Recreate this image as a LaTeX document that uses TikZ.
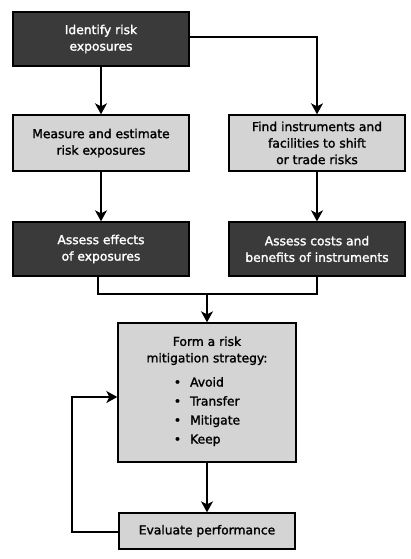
\documentclass[tikz,border=0pt]{standalone}
\usepackage{fontspec}
\setmainfont{DejaVu Sans}[BoldFont=DejaVu Sans, BoldFeatures={FakeBold=1.6}]
\usetikzlibrary{arrows.meta}
\definecolor{darkbox}{HTML}{3A3A3A}
\definecolor{lightbox}{HTML}{D4D4D4}
\tikzset{
  box/.style={draw=black, line width=1.4pt, minimum width=176pt, inner sep=0pt, align=center,
    font=\bfseries\fontsize{12.3}{16.5}\selectfont},
  darkstep/.style={box, fill=darkbox, text=white},
  lightstep/.style={box, fill=lightbox, text=black},
  conn/.style={line width=1.4pt, draw=black},
  arr/.style={conn, -{Stealth[length=11pt,width=12pt,inset=3pt]}},
}
\begin{document}
\begin{tikzpicture}[x=1pt,y=-1pt]
\useasboundingbox (0,0) rectangle (410,559);
\node[darkstep, minimum height=54pt] (ident) at (101,39) {Identify risk\\exposures};
\node[lightstep, minimum height=56pt] (meas) at (101,143) {Measure and estimate\\risk exposures};
\node[lightstep, minimum height=56pt] (find) at (317,143) {Find instruments and\\facilities to shift\\or trade risks};
\node[darkstep, minimum height=54pt] (eff) at (101,249) {Assess effects\\of exposures};
\node[darkstep, minimum height=54pt] (cost) at (317,249) {Assess costs and\\benefits of instruments};
\node[lightstep, minimum width=178pt, minimum height=139pt] (form) at (207,392.5) {Form a risk\\mitigation strategy:\\[9pt]
  {\begin{tabular}{@{}l@{\hspace{9pt}}l@{}}
  •&Avoid\\[2.5pt] •&Transfer\\[2.5pt] •&Mitigate\\[2.5pt] •&Keep
  \end{tabular}}};
\node[lightstep, minimum height=36pt] (eval) at (207,531) {Evaluate performance};
\coordinate (tr) at (317,37);
\coordinate (jl) at (98,294);
\coordinate (jr) at (317,294);
\coordinate (jm) at (207,294);
\coordinate (bl) at (72,532);
\coordinate (tl) at (72,397);
\draw[arr] (ident.south) -- (meas.north);
\draw[arr] (ident.east |- tr) -- (tr) -- (find.north);
\draw[arr] (meas.south) -- (eff.north);
\draw[arr] (find.south) -- (cost.north);
\draw[conn] (eff.south -| jl) -- (jl) -- (jr) -- (cost.south);
\draw[arr] (jm) -- (form.north);
\draw[arr] (form.south) -- (eval.north);
\draw[arr] (eval.west |- bl) -- (bl) -- (tl) -- (form.west |- tl);
\end{tikzpicture}
\end{document}
